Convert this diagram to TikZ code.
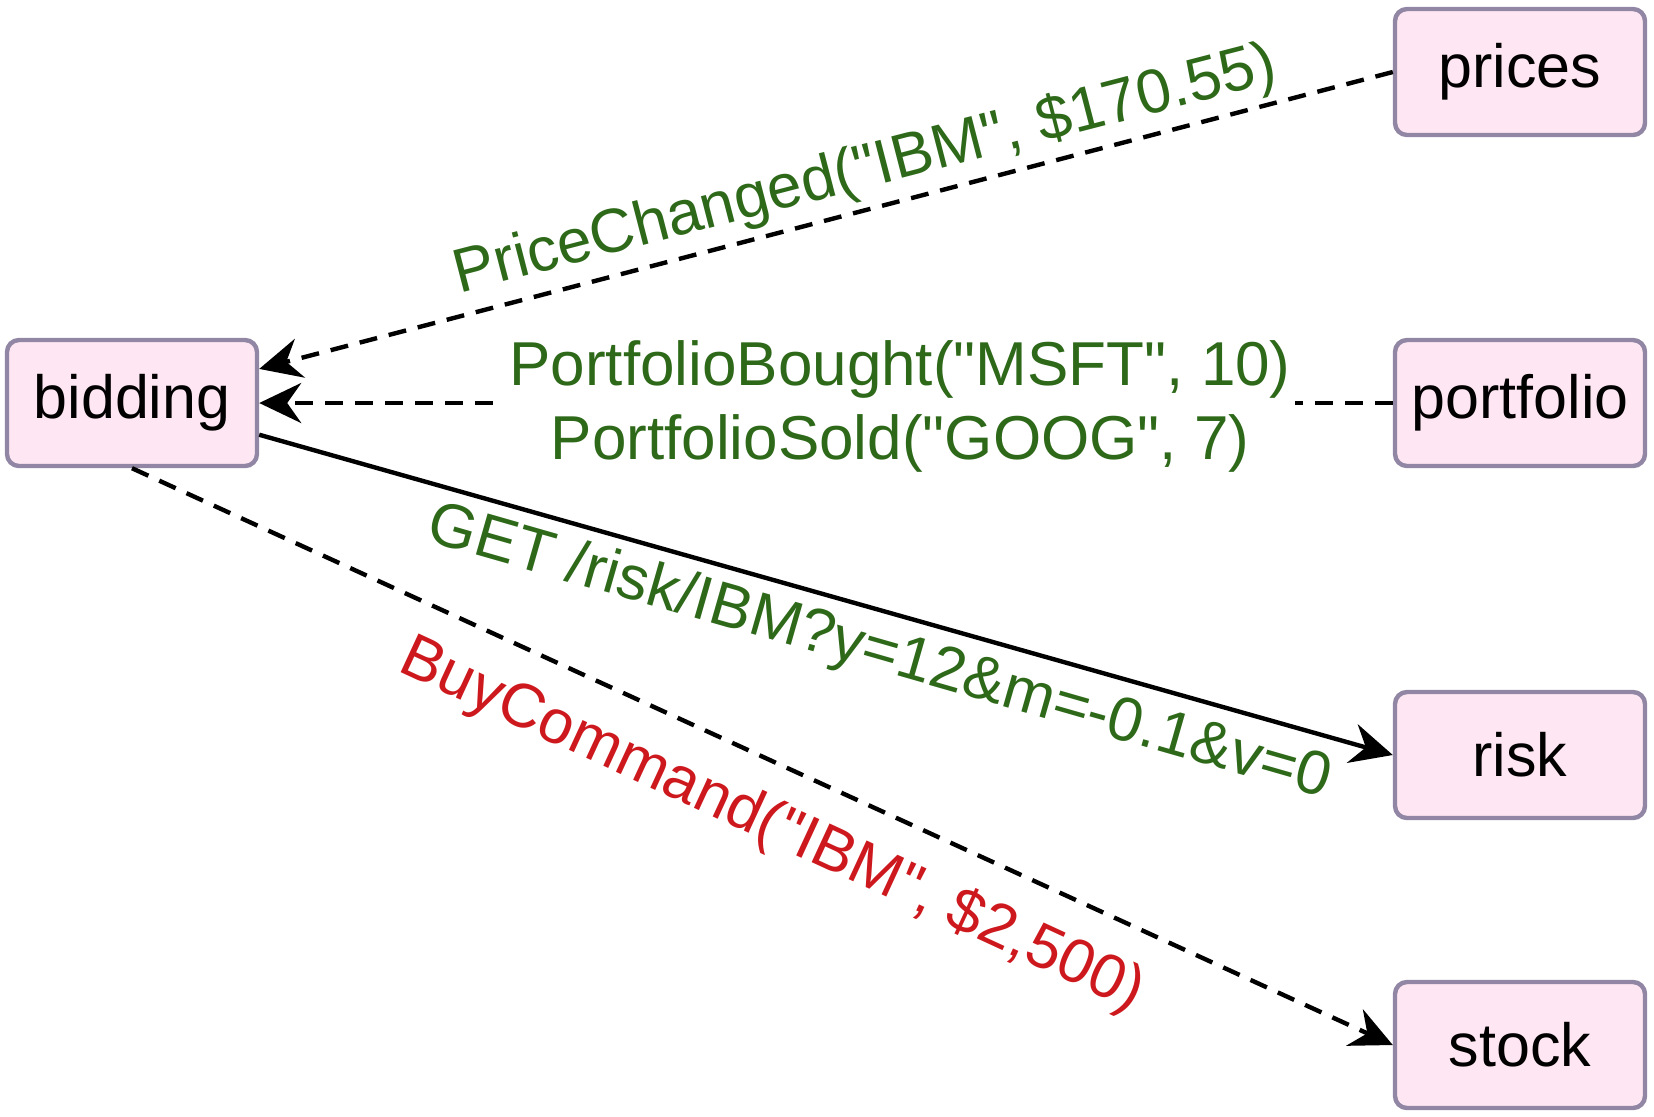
\documentclass[tikz,border=0pt]{standalone}
\usepackage{fontspec}
\setmainfont{Liberation Sans}[Ligatures=TeXOff]
\usetikzlibrary{arrows.meta}
\definecolor{boxfill}{RGB}{254,230,242}
\definecolor{boxdraw}{RGB}{145,135,165}
\definecolor{lblgreen}{RGB}{45,105,25}
\definecolor{lblred}{RGB}{205,25,30}
\begin{document}
\begin{tikzpicture}[x=0.5pt,y=-0.5pt,
  svc/.style={draw=boxdraw, line width=2.2pt, fill=boxfill, rounded corners=6pt,
    minimum width=125pt, minimum height=63pt, inner sep=0pt,
    font=\fontsize{30.5}{36}\selectfont},
  msg/.style={font=\fontsize{31}{37}\selectfont, inner sep=0pt},
  conn/.style={line width=2.2pt, -{Stealth[length=21pt,width=20pt,inset=7pt]}},
  dashconn/.style={conn, dash pattern=on 9pt off 6pt},
]
\useasboundingbox (0,0) rectangle (1654,1116);
\node[svc] (bidding) at (132,403) {bidding};
\node[svc] (prices) at (1520,72) {prices};
\node[svc] (portfolio) at (1520,403) {portfolio};
\node[svc] (risk) at (1520,755) {risk};
\node[svc] (stock) at (1520,1045) {stock};

\draw[dashconn] (prices.west) -- (bidding.15);
\draw[dashconn] (portfolio.west) -- (bidding.east);
\draw[conn] (bidding.-14) -- (risk.west);
\draw[dashconn] (bidding.south) -- (stock.west);

\node[msg, text=lblgreen, rotate=14.5] (lprice) at (865,171) {PriceChanged("IBM", \$170.55)};
\node[msg, text=lblgreen, fill=white, align=center, inner sep=2pt] (lport) at (900,406)
  {PortfolioBought("MSFT", 10)\\PortfolioSold("GOOG", 7)};
\node[msg, text=lblgreen, rotate=-16] (lrisk) at (879,654) {GET /risk/IBM?y=12\&m=-0.1\&v=0};
\node[msg, text=lblred, rotate=-24.8] (lstock) at (772,826) {BuyCommand("IBM", \$2,500)};
\end{tikzpicture}
\end{document}
